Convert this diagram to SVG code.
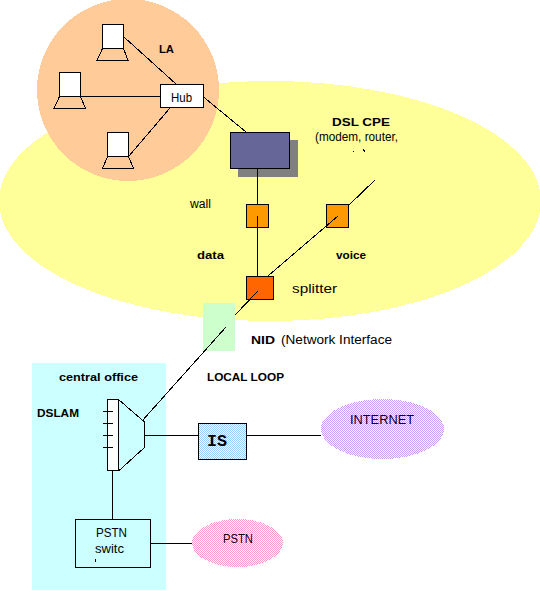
<svg xmlns="http://www.w3.org/2000/svg" width="540" height="591" viewBox="0 0 540 591" shape-rendering="crispEdges">
<style>
.b{stroke:#000;stroke-width:1}
.l{stroke:#000;stroke-width:1;fill:none}
text{font-family:"Liberation Sans",Arial,sans-serif;fill:#000;font-size:12px}
.h{font-size:11.500px;font-weight:bold}
.m{font-family:"Liberation Mono",monospace;font-size:16px;font-weight:bold}
</style>
<defs>
<pattern id="pBlue" width="2" height="2" patternUnits="userSpaceOnUse"><rect width="2" height="2" fill="#fff"/><rect width="1" height="1" fill="#99ccff"/><rect x="1" y="1" width="1" height="1" fill="#99ccff"/></pattern>
<pattern id="pPurple" width="2" height="2" patternUnits="userSpaceOnUse"><rect width="2" height="2" fill="#fff"/><rect width="1" height="1" fill="#cc99ff"/><rect x="1" y="1" width="1" height="1" fill="#cc99ff"/></pattern>
<pattern id="pPink" width="2" height="2" patternUnits="userSpaceOnUse"><rect width="2" height="2" fill="#fff"/><rect width="1" height="1" fill="#ff99cc"/><rect x="1" y="1" width="1" height="1" fill="#ff99cc"/></pattern>
</defs>
<g id="home-area"><ellipse cx="270" cy="201" rx="271" ry="120" fill="#ffff99"/></g>
<g id="lan-area"><circle cx="128" cy="90" r="91" fill="#ffcc99"/></g>
<g id="central-office"><rect x="32" y="363" width="134" height="227" fill="#ccffff"/><text class="h" x="59" y="381" textLength="79" lengthAdjust="spacingAndGlyphs">central office</text></g>
<g id="laptop-top"><rect class="b" x="102.500" y="24.500" width="21" height="24" fill="#fff"/><path class="l" d="M102.500 48.500L97 60.500H128L123.500 48.500"/></g>
<g id="laptop-left"><rect class="b" x="59.500" y="72.500" width="21" height="24" fill="#fff"/><path class="l" d="M59.500 96.500L54 108.500H85.500L80.500 96.500"/></g>
<g id="laptop-bottom"><rect class="b" x="107.500" y="132.500" width="21" height="24" fill="#fff"/><path class="l" d="M107.500 156.500L102.500 168.500H133.500L128.500 156.500"/></g>
<g id="hub"><rect class="b" x="160.500" y="84.500" width="43" height="23" fill="#fff"/><text x="171" y="102" textLength="21" lengthAdjust="spacingAndGlyphs">Hub</text></g>
<g id="la-label"><text class="h" x="159" y="53" textLength="15" lengthAdjust="spacingAndGlyphs">LA</text></g>
<g id="dsl-cpe"><rect x="238" y="140" width="60" height="37" fill="#808080"/><rect class="b" x="230.500" y="132.500" width="59" height="36" fill="#666699"/><text class="h" x="332" y="126" textLength="58" lengthAdjust="spacingAndGlyphs">DSL CPE</text><text x="315" y="141" textLength="83" lengthAdjust="spacingAndGlyphs">(modem, router,</text><rect x="353" y="151" width="1" height="1" fill="#000"/><path class="l" d="M363 149.500L365 151.500"/></g>
<g id="wall-jack"><rect class="b" x="246.500" y="204.500" width="22" height="23" fill="#ff9900"/><text x="190" y="208" textLength="21" lengthAdjust="spacingAndGlyphs">wall</text></g>
<g id="voice-jack"><rect class="b" x="326.500" y="204.500" width="22" height="23" fill="#ff9900"/></g>
<g id="splitter"><rect class="b" x="246.500" y="276.500" width="27" height="23" fill="#ff6600"/><text x="292" y="293" textLength="45" lengthAdjust="spacingAndGlyphs">splitter</text></g>
<g id="data-label"><text class="h" x="197" y="259" textLength="27" lengthAdjust="spacingAndGlyphs">data</text></g>
<g id="voice-label"><text class="h" x="336" y="259" textLength="30" lengthAdjust="spacingAndGlyphs">voice</text></g>
<g id="nid"><rect x="203" y="303" width="32" height="48" fill="#ccffcc"/><text class="h" x="251" y="344" textLength="24" lengthAdjust="spacingAndGlyphs">NID</text><text x="281" y="344" textLength="111" lengthAdjust="spacingAndGlyphs">(Network Interface</text></g>
<g id="local-loop"><text class="h" x="207" y="381" textLength="77" lengthAdjust="spacingAndGlyphs">LOCAL LOOP</text></g>
<g id="dslam"><text class="h" x="37" y="417" textLength="42" lengthAdjust="spacingAndGlyphs">DSLAM</text><path class="l" d="M118.500 399.500L144.500 422V447.500L118.500 471"/><rect class="b" x="107.500" y="399.500" width="11" height="71" fill="#fff"/><path class="l" d="M103 411.500H113M103 423.500H113M103 435.500H113M103 447.500H113"/></g>
<g id="isp"><rect class="b" x="198.500" y="423.500" width="48" height="36" fill="url(#pBlue)"/><text class="m" x="207" y="446" textLength="20" lengthAdjust="spacingAndGlyphs">IS</text></g>
<g id="internet"><ellipse cx="382.500" cy="429" rx="61.500" ry="30" fill="url(#pPurple)"/><text x="350" y="424" textLength="64" lengthAdjust="spacingAndGlyphs">INTERNET</text></g>
<g id="pstn-cloud"><ellipse cx="237.500" cy="543" rx="45.500" ry="24" fill="url(#pPink)"/><text x="223" y="543" textLength="30" lengthAdjust="spacingAndGlyphs">PSTN</text></g>
<g id="pstn-switch"><rect class="b" x="75.500" y="519.500" width="75" height="48" fill="none"/><text x="96" y="537" textLength="31" lengthAdjust="spacingAndGlyphs">PSTN</text><text x="95" y="553" textLength="29" lengthAdjust="spacingAndGlyphs">switc</text><rect x="95" y="559" width="1" height="3" fill="#000"/></g>
<g id="connectors">
<path class="l" d="M124 37L176 84M81 96.500H160M129 156L170 108M203.500 97L246 132"/>
<path class="l" d="M257.500 169V204M257.500 216V276M375 180L349 205M338 216L268 276"/>
<path class="l" d="M258 291L235 315M226 327L142 421M145 435.500H198M247 435.500H321M112.500 471V519M151 543.500H192"/>
</g>
</svg>
